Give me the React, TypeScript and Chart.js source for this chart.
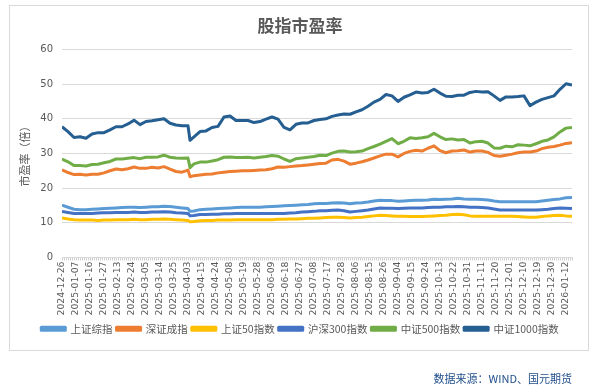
import React, { useEffect, useRef } from 'react';
import { Chart, registerables } from 'chart.js';

Chart.register(...registerables);

// Tick labels: one every 7 trading days (index 0, 7, 14, ... 252)
const DATES = [
  '2024-12-26', '2025-01-07', '2025-01-16', '2025-01-27', '2025-02-13', '2025-02-24',
  '2025-03-05', '2025-03-14', '2025-03-25', '2025-04-03', '2025-04-15', '2025-04-24',
  '2025-05-08', '2025-05-19', '2025-05-28', '2025-06-09', '2025-06-18', '2025-06-27',
  '2025-07-08', '2025-07-17', '2025-07-28', '2025-08-06', '2025-08-15', '2025-08-26',
  '2025-09-04', '2025-09-15', '2025-09-24', '2025-10-13', '2025-10-22', '2025-10-31',
  '2025-11-11', '2025-11-20', '2025-12-01', '2025-12-10', '2025-12-19', '2025-12-30',
  '2026-01-12',
];
const LABEL_STEP = 7;
const LAST_DAY = 255;

// Trading-day index of each sampled value
const DAY_INDEX = [
  0, 3, 6, 9, 12, 15, 18, 21, 24, 27, 30, 33, 36, 39, 42, 45, 48, 51, 54, 57, 60, 63, 64,
  66, 69, 72, 75, 78, 81, 84, 87, 90, 93, 96, 99, 102, 105, 108, 111, 114, 117, 120, 123,
  126, 129, 132, 135, 138, 141, 144, 147, 150, 153, 156, 159, 162, 165, 168, 171, 174, 177,
  180, 183, 186, 189, 192, 195, 198, 201, 204, 207, 210, 213, 216, 219, 222, 225, 228, 231,
  234, 237, 240, 243, 246, 249, 252, 255,
];

const SH_COMPOSITE = [
  15.1, 14.5, 13.9, 13.8, 13.8, 13.9, 14.0, 14.1, 14.2, 14.3, 14.4, 14.5, 14.5, 14.4, 14.5,
  14.6, 14.6, 14.8, 14.7, 14.5, 14.3, 14.1, 13.3,
  13.4, 13.8, 13.9, 14.0, 14.1, 14.2, 14.3, 14.4, 14.5, 14.5, 14.5, 14.5, 14.6, 14.7, 14.8,
  14.9, 15.0, 15.1, 15.2, 15.3, 15.5, 15.6, 15.6, 15.7, 15.8, 15.7, 15.5, 15.7, 15.8, 16.0,
  16.3, 16.5, 16.4, 16.4, 16.2, 16.3, 16.4, 16.5, 16.5, 16.6, 16.8, 16.7, 16.8, 16.9, 17.1,
  16.9, 16.8, 16.8, 16.7, 16.6, 16.3, 16.1, 16.1, 16.1, 16.1, 16.1, 16.1, 16.1, 16.3, 16.5,
  16.7, 16.9, 17.2, 17.3,
];

const SZ_COMPONENT = [
  25.3, 24.5, 23.9, 24.0, 23.8, 24.0, 24.0, 24.4, 25.0, 25.5, 25.3, 25.6, 26.1, 25.7, 25.7,
  26.0, 25.8, 26.2, 25.5, 24.8, 24.6, 25.2, 23.3,
  23.6, 23.8, 24.0, 24.1, 24.4, 24.6, 24.8, 24.9, 25.0, 25.0, 25.1, 25.2, 25.3, 25.6, 26.1,
  26.0, 26.2, 26.4, 26.5, 26.7, 26.9, 27.1, 27.2, 28.1, 28.3, 27.8, 26.9, 27.2, 27.6, 28.1,
  28.7, 29.3, 29.8, 29.8, 29.0, 30.0, 30.6, 30.9, 30.7, 31.5, 32.2, 30.8, 30.2, 30.7, 30.8,
  31.0, 30.4, 30.7, 30.7, 30.3, 29.4, 29.2, 29.5, 29.8, 30.2, 30.4, 30.4, 30.7, 31.4, 31.8,
  32.0, 32.4, 32.9, 33.1,
];

const SSE50 = [
  11.4, 11.1, 10.9, 10.8, 10.8, 10.8, 10.7, 10.8, 10.8, 10.9, 10.9, 10.9, 11.0, 10.9, 10.9,
  11.0, 11.0, 11.1, 11.0, 10.9, 10.8, 10.7, 10.3,
  10.4, 10.6, 10.7, 10.7, 10.8, 10.8, 10.8, 10.9, 10.9, 10.9, 10.9, 10.9, 10.9, 10.9, 11.0,
  11.0, 11.1, 11.1, 11.2, 11.3, 11.3, 11.4, 11.5, 11.6, 11.6, 11.5, 11.4, 11.5, 11.6, 11.8,
  12.0, 12.2, 12.1, 12.0, 11.9, 11.9, 11.8, 11.8, 11.8, 11.9, 12.0, 12.1, 12.2, 12.4, 12.5,
  12.3, 12.0, 11.9, 11.9, 11.9, 11.9, 11.9, 11.9, 11.9, 11.8, 11.7, 11.6, 11.6, 11.8, 12.0,
  12.1, 12.2, 12.0, 11.9,
];

const CSI300 = [
  13.3, 13.0, 12.7, 12.7, 12.7, 12.7, 12.8, 12.9, 12.9, 13.0, 13.0, 13.0, 13.1, 13.0, 13.0,
  13.1, 13.1, 13.2, 13.1, 12.9, 12.8, 12.7, 12.0,
  12.1, 12.4, 12.4, 12.5, 12.5, 12.6, 12.6, 12.7, 12.7, 12.7, 12.7, 12.7, 12.7, 12.7, 12.7,
  12.7, 12.8, 12.9, 13.1, 13.2, 13.3, 13.5, 13.5, 13.6, 13.7, 13.5, 13.1, 13.3, 13.5, 13.7,
  14.0, 14.3, 14.2, 14.2, 14.1, 14.2, 14.3, 14.3, 14.3, 14.4, 14.5, 14.5, 14.6, 14.6, 14.7,
  14.6, 14.5, 14.5, 14.4, 14.3, 14.0, 13.7, 13.7, 13.7, 13.7, 13.7, 13.7, 13.7, 13.8, 13.9,
  14.1, 14.3, 14.2, 14.1,
];

const CSI500 = [
  28.4, 27.6, 26.5, 26.5, 26.4, 26.8, 26.9, 27.3, 27.7, 28.4, 28.4, 28.6, 28.8, 28.5, 28.9,
  28.9, 29.0, 29.5, 28.9, 28.7, 28.6, 28.7, 25.9,
  27.0, 27.5, 27.5, 27.8, 28.2, 28.9, 29.0, 28.8, 28.8, 28.9, 28.7, 28.9, 29.1, 29.4, 29.2,
  28.4, 27.7, 28.5, 28.7, 28.9, 29.1, 29.5, 29.4, 30.1, 30.6, 30.7, 30.4, 30.5, 30.7, 31.4,
  32.0, 32.7, 33.5, 34.3, 32.8, 33.5, 34.5, 34.3, 34.5, 34.8, 35.8, 34.8, 34.0, 34.2, 33.9,
  34.0, 33.0, 33.4, 33.5, 33.0, 31.6, 31.5, 32.1, 31.9, 32.5, 32.4, 32.2, 32.8, 33.5, 33.9,
  34.8, 36.2, 37.3, 37.5,
];

const CSI1000 = [
  37.7, 36.3, 34.6, 34.8, 34.4, 35.6, 36.0, 36.0, 36.8, 37.7, 37.7, 38.5, 39.6, 38.3, 39.2,
  39.4, 39.7, 40.0, 38.7, 38.2, 38.0, 38.0, 33.8,
  34.8, 36.3, 36.5, 37.5, 37.8, 40.5, 40.8, 39.5, 39.5, 39.5, 38.9, 39.2, 39.9, 40.5, 39.9,
  37.5, 36.8, 38.4, 38.8, 38.8, 39.5, 39.8, 40.0, 40.7, 41.1, 41.4, 41.3, 42.0, 42.6, 43.6,
  44.8, 45.6, 47.0, 46.6, 45.0, 46.2, 46.9, 47.7, 47.4, 47.6, 48.5, 47.4, 46.5, 46.4, 46.8,
  46.8, 47.6, 47.9, 47.7, 47.8, 46.6, 45.3, 46.3, 46.3, 46.4, 46.6, 43.8, 44.8, 45.6, 46.1,
  46.6, 48.5, 50.1, 49.7,
];

const SERIES_NAMES = ['上证综指', '深证成指', '上证50指数', '沪深300指数', '中证500指数', '中证1000指数'];
const SERIES_VALUES = [SH_COMPOSITE, SZ_COMPONENT, SSE50, CSI300, CSI500, CSI1000];
const SERIES_COLORS = ['#5B9BD5', '#ED7D31', '#FFC000', '#4472C4', '#70AD47', '#255E91'];

const Y_TICKS = [0, 10, 20, 30, 40, 50, 60];

const CJK = '"Noto Sans CJK SC", "Noto Sans", sans-serif';
const NUM = '"DejaVu Sans", sans-serif';
const TEXT_COLOR = '#595959';
const GRID_COLOR = '#d9d9d9';

export default function App() {
  const canvasRef = useRef<HTMLCanvasElement | null>(null);

  useEffect(() => {
    const canvas = canvasRef.current;
    if (!canvas) return;
    const datasets = SERIES_NAMES.map((name, s) => ({
      label: name,
      data: DAY_INDEX.map((d, i) => ({ x: d, y: SERIES_VALUES[s][i] })),
      borderColor: SERIES_COLORS[s],
      backgroundColor: SERIES_COLORS[s],
      borderWidth: 3,
      pointRadius: 0,
      tension: 0,
      fill: false,
      borderJoinStyle: 'round' as const,
    }));

    const chart = new Chart(canvas, {
      type: 'line',
      data: { datasets },
      options: {
        responsive: false,
        animation: false,
        devicePixelRatio: 1,
        layout: { padding: { left: 28, right: 44, top: 0, bottom: 48 } },
        plugins: {
          title: {
            display: true,
            text: '股指市盈率',
            color: TEXT_COLOR,
            font: { family: CJK, size: 17, weight: 'bold' },
            padding: { top: 15, bottom: 14 },
          },
          legend: {
            position: 'bottom',
            labels: {
              boxWidth: 24,
              boxHeight: 3,
              padding: 4,
              color: TEXT_COLOR,
              font: { family: CJK, size: 10.5 },
            },
          },
          tooltip: { enabled: false },
        },
        scales: {
          x: {
            type: 'linear',
            min: 0,
            max: LAST_DAY,
            afterBuildTicks: (scale: any) => {
              const ticks = [];
              for (let v = 0; v <= LAST_DAY; v++) ticks.push({ value: v });
              scale.ticks = ticks;
            },
            afterFit: (scale: any) => {
              scale.height = 62;
            },
            grid: {
              display: true,
              drawOnChartArea: false,
              drawTicks: true,
              tickLength: 3,
              color: '#d0d0d0',
            },
            border: { display: true, color: GRID_COLOR },
            ticks: {
              autoSkip: false,
              minRotation: 90,
              maxRotation: 90,
              padding: 1,
              color: TEXT_COLOR,
              font: { family: NUM, size: 9.3 },
              callback: (value: any) => {
                const v = Number(value);
                return v % LABEL_STEP === 0 && DATES[v / LABEL_STEP] ? DATES[v / LABEL_STEP] : '';
              },
            },
          },
          y: {
            min: 0,
            max: 60,
            afterBuildTicks: (scale: any) => {
              scale.ticks = Y_TICKS.map((v) => ({ value: v }));
            },
            afterFit: (scale: any) => {
              scale.width = 34;
            },
            grid: { color: GRID_COLOR, drawTicks: false, lineWidth: 1 },
            border: { display: false },
            ticks: {
              padding: 9,
              color: TEXT_COLOR,
              font: { family: NUM, size: 10 },
            },
            title: {
              display: true,
              text: '市盈率（倍）',
              color: TEXT_COLOR,
              font: { family: CJK, size: 11 },
              padding: { top: -10, bottom: 0 },
            },
          },
        },
      },
    } as any);

    return () => chart.destroy();
  }, []);

  return (
    <div
      style={{
        position: 'absolute',
        left: 0,
        top: 0,
        width: 616,
        height: 392,
        background: '#ffffff',
        overflow: 'hidden',
      }}
    >
      <div
        style={{
          position: 'absolute',
          left: 9,
          top: 5,
          width: 580,
          height: 346,
          border: '1px solid #d9d9d9',
          boxSizing: 'border-box',
        }}
      />
      <canvas
        ref={canvasRef}
        width={616}
        height={392}
        style={{ position: 'absolute', left: 0, top: 0, width: 616, height: 392 }}
      />
      <div
        style={{
          position: 'absolute',
          right: 44,
          top: 370,
          font: `11px ${CJK}`,
          color: '#1F4E8C',
          whiteSpace: 'nowrap',
        }}
      >
        数据来源：WIND、国元期货
      </div>
    </div>
  );
}
